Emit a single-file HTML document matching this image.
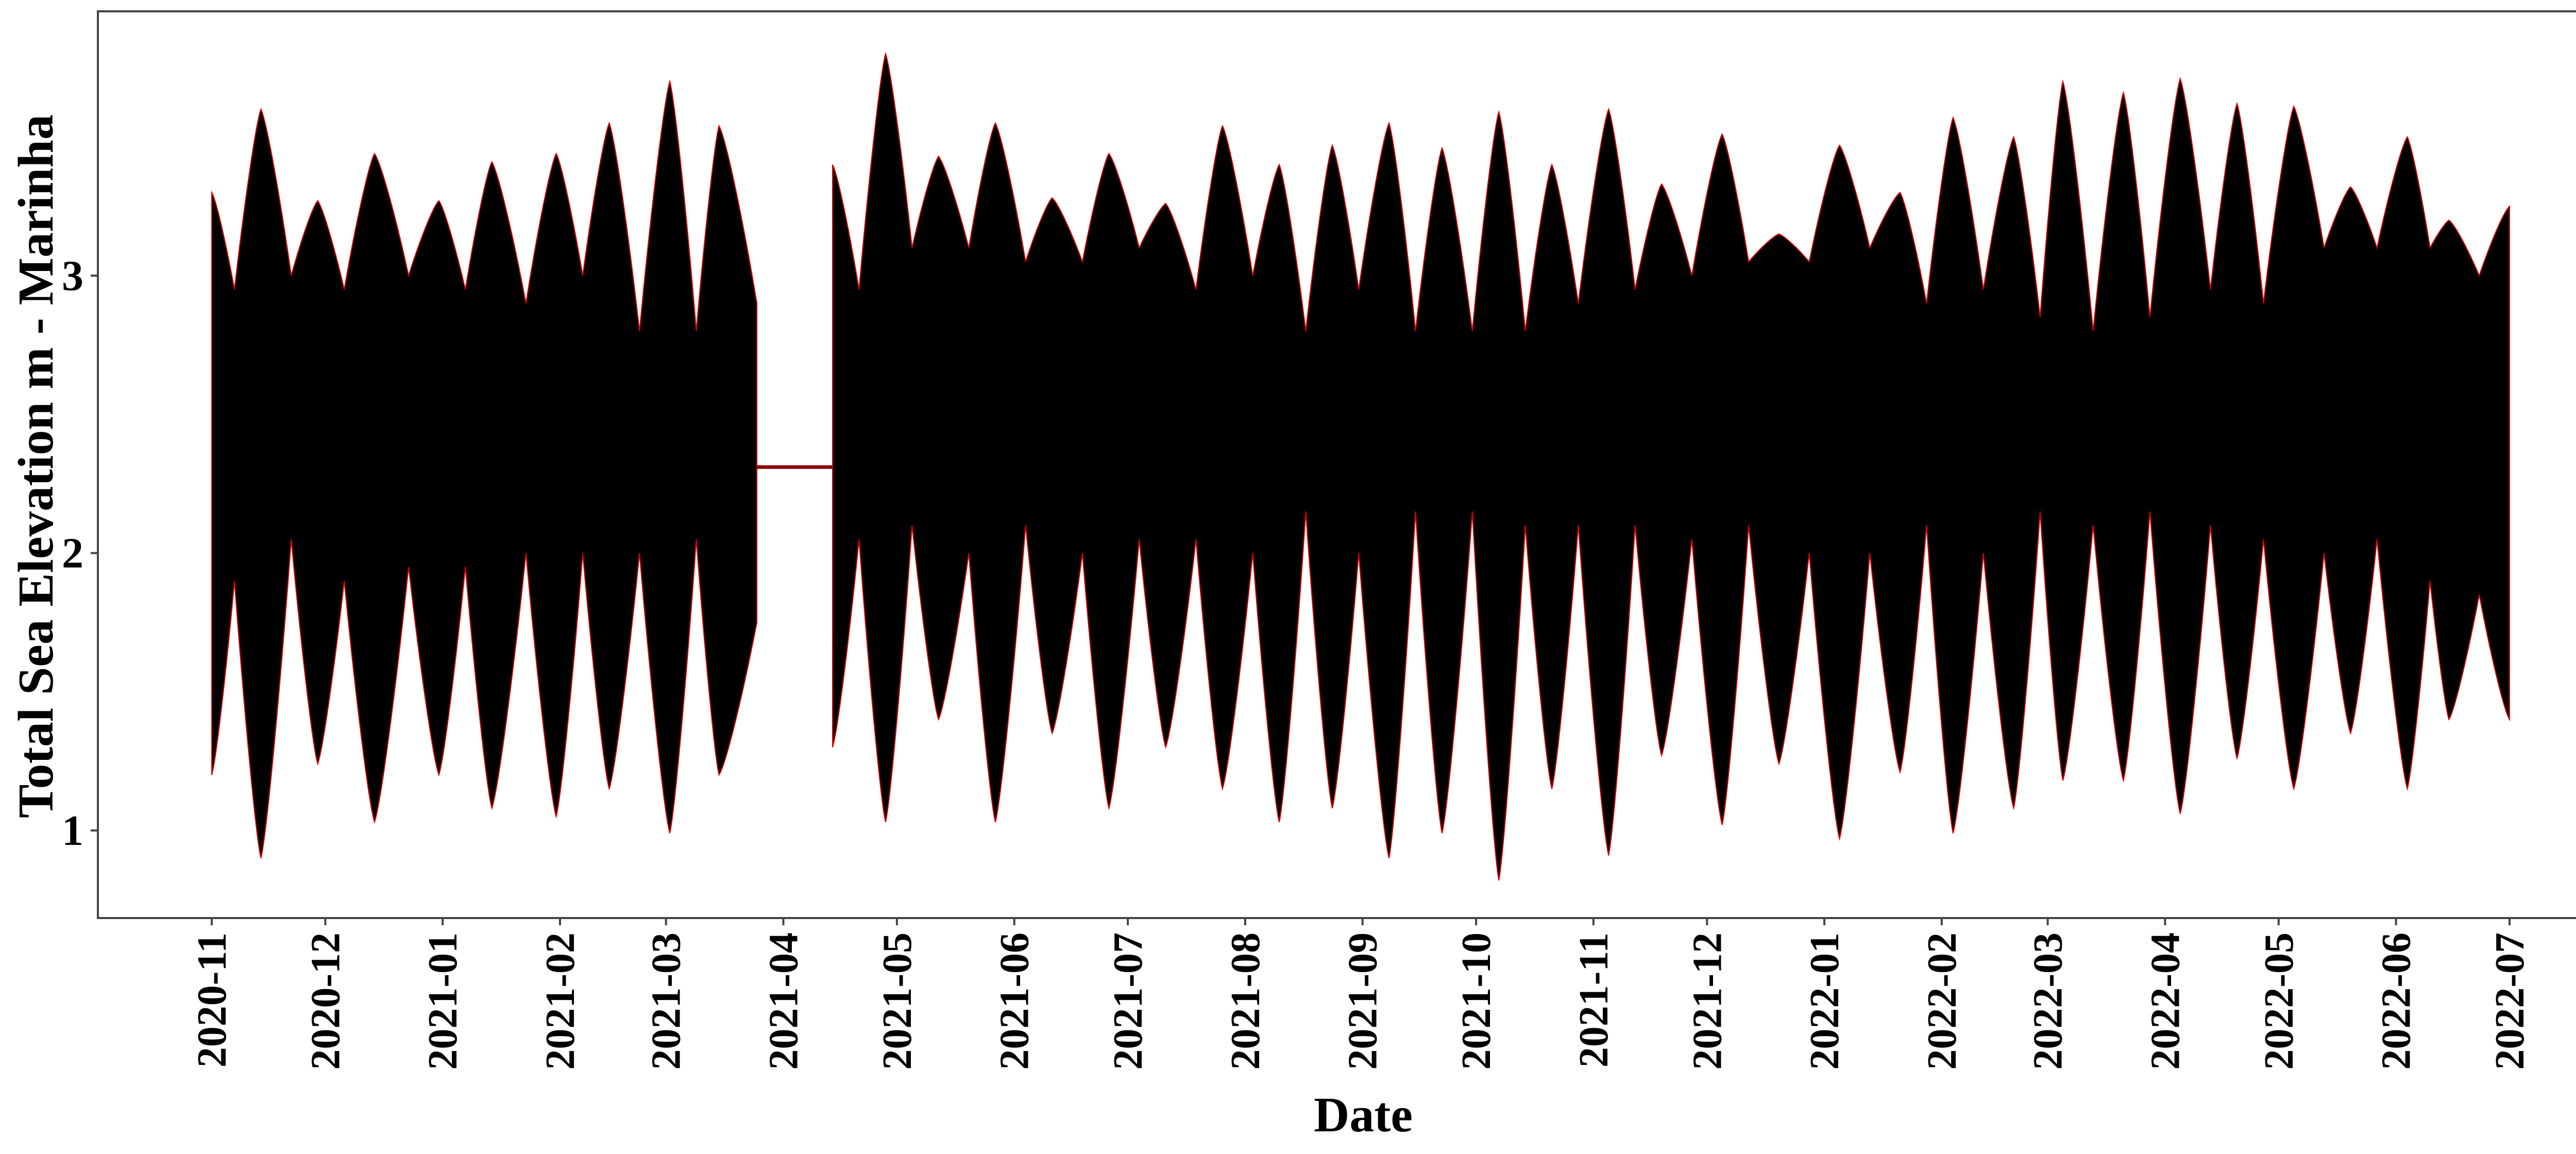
<!DOCTYPE html>
<html><head><meta charset="utf-8"><style>
html,body{margin:0;padding:0;background:#fff;}
svg{display:block;font-family:"Liberation Serif",serif;font-weight:bold;}
</style></head><body>
<svg id="chart" width="5120" height="2240" viewBox="0 0 5120 2240" xmlns="http://www.w3.org/2000/svg">
<rect x="0" y="0" width="5120" height="2240" fill="#fff"/>
<g id="marks"></g>
<rect x="190" y="22" width="4911" height="1760" fill="none" stroke="#444" stroke-width="4"/>
<g id="axes"></g>
<text x="2646" y="2196" font-size="96" text-anchor="middle">Date</text>
<text transform="translate(102,905) rotate(-90)" font-size="98" text-anchor="middle">Total Sea Elevation m - Marinha</text>
</svg>
<script>
// data: day offsets from 2020-11-01, upper (daily max) & lower (daily min) envelope, metres
const seg1Days = [0,6,13,21,28,35,43,52,60,67,74,83,91,98,105,113,121,128,134,144];
const seg1Upper = [3.3,2.95,3.6,3.0,3.27,2.95,3.44,3.0,3.27,2.95,3.41,2.9,3.44,3.0,3.55,2.8,3.7,2.8,3.54,2.9];
const seg1Lower = [1.2,1.9,0.9,2.05,1.24,1.9,1.03,1.95,1.2,1.95,1.08,2.0,1.05,2.0,1.15,2.0,0.99,2.05,1.2,1.75];
const seg2Days = [164,171,178,185,192,200,207,215,222,230,237,245,252,260,267,275,282,289,296,303,311,318,325,333,340,347,354,361,369,376,383,391,399,406,414,422,430,438,446,453,460,468,476,483,489,497,505,512,520,528,535,542,550,558,565,572,580,586,591,599,607];
const seg2Upper = [3.4,2.95,3.8,3.1,3.43,3.1,3.55,3.05,3.28,3.05,3.44,3.1,3.26,2.95,3.54,3.0,3.4,2.8,3.47,2.95,3.55,2.8,3.46,2.8,3.59,2.8,3.4,2.9,3.6,2.95,3.33,3.0,3.51,3.05,3.15,3.05,3.47,3.1,3.3,2.9,3.57,2.95,3.5,2.85,3.7,2.8,3.66,2.85,3.71,2.95,3.62,2.9,3.61,3.1,3.32,3.1,3.5,3.1,3.2,3.0,3.25];
const seg2Lower = [1.3,2.05,1.03,2.1,1.4,2.0,1.03,2.1,1.35,2.0,1.08,2.05,1.3,2.05,1.15,2.0,1.03,2.15,1.08,2.0,0.9,2.15,0.99,2.15,0.82,2.1,1.15,2.1,0.91,2.1,1.27,2.05,1.02,2.1,1.24,2.0,0.97,2.0,1.21,2.1,0.99,2.0,1.08,2.15,1.18,2.1,1.18,2.15,1.06,2.1,1.26,2.05,1.15,2.0,1.35,2.05,1.15,1.9,1.4,1.85,1.4];
const gapDays = [144,164];
const gapLevel = 2.31;
const yTicks = [1,2,3];
const xTickLabels = ["2020-11","2020-12","2021-01","2021-02","2021-03","2021-04","2021-05","2021-06","2021-07","2021-08","2021-09","2021-10","2021-11","2021-12","2022-01","2022-02","2022-03","2022-04","2022-05","2022-06","2022-07"];

const NS="http://www.w3.org/2000/svg";
const x0=411, pxPerDay=(4871-411)/607;
function xs(d){return x0+d*pxPerDay;}
function ys(v){return 1612-(v-1)*538.5;}
function dayOf(lbl){const [y,m]=lbl.split("-").map(Number);return (Date.UTC(y,m-1,1)-Date.UTC(2020,10,1))/86400000;}
const marks=document.getElementById("marks");
const axes=document.getElementById("axes");

// curve segment: mildly convex lobes, pointed peaks, sharp notches at neaps
function curve(xa,ya,xb,yb,aExtreme){
  const dx=xb-xa;
  if(aExtreme){
    return " C"+(xa+dx*0.2).toFixed(1)+","+(ya+(yb-ya)*0.08).toFixed(1)+" "+(xb-dx*0.35).toFixed(1)+","+(yb+(ya-yb)*0.45).toFixed(1)+" "+xb.toFixed(1)+","+yb.toFixed(1);
  }
  return " C"+(xa+dx*0.35).toFixed(1)+","+(ya+(yb-ya)*0.45).toFixed(1)+" "+(xb-dx*0.2).toFixed(1)+","+(yb+(ya-yb)*0.08).toFixed(1)+" "+xb.toFixed(1)+","+yb.toFixed(1);
}
function drawSeg(days,up,lo,name){
  const n=days.length;
  let d="M"+xs(days[0]).toFixed(1)+","+ys(up[0]).toFixed(1);
  for(let i=1;i<n;i++) d+=curve(xs(days[i-1]),ys(up[i-1]),xs(days[i]),ys(up[i]),(i-1)%2===0);
  d+=" L"+xs(days[n-1]).toFixed(1)+","+ys(lo[n-1]).toFixed(1);
  for(let i=n-2;i>=0;i--) d+=curve(xs(days[i+1]),ys(lo[i+1]),xs(days[i]),ys(lo[i]),(i+1)%2===0);
  d+=" Z";
  const p=document.createElementNS(NS,"path");
  p.setAttribute("d",d);
  p.setAttribute("fill","#000");
  p.setAttribute("stroke","#d00");
  p.setAttribute("stroke-width","2");
  
  
  marks.appendChild(p);
}
drawSeg(seg1Days,seg1Upper,seg1Lower,'elevation-series-segment-1');
drawSeg(seg2Days,seg2Upper,seg2Lower,'elevation-series-segment-2');

const gl=document.createElementNS(NS,"line");
gl.setAttribute("x1",xs(gapDays[0]));gl.setAttribute("x2",xs(gapDays[1]));
gl.setAttribute("y1",ys(gapLevel));gl.setAttribute("y2",ys(gapLevel));
gl.setAttribute("stroke","#8b0000");gl.setAttribute("stroke-width","7");


marks.appendChild(gl);

yTicks.forEach(v=>{
  const t=document.createElementNS(NS,"line");
  t.setAttribute("x1",176);t.setAttribute("x2",190);t.setAttribute("y1",ys(v));t.setAttribute("y2",ys(v));
  t.setAttribute("stroke","#444");t.setAttribute("stroke-width","4");
  
  
  axes.appendChild(t);
  const l=document.createElementNS(NS,"text");
  l.setAttribute("x",162);l.setAttribute("y",ys(v)+28);l.setAttribute("text-anchor","end");l.setAttribute("font-size","84");
  l.textContent=v;
  
  
  axes.appendChild(l);
});
xTickLabels.forEach(lbl=>{
  const x=xs(dayOf(lbl));
  const t=document.createElementNS(NS,"line");
  t.setAttribute("x1",x);t.setAttribute("x2",x);t.setAttribute("y1",1782);t.setAttribute("y2",1796);
  t.setAttribute("stroke","#444");t.setAttribute("stroke-width","4");
  
  
  axes.appendChild(t);
  const l=document.createElementNS(NS,"text");
  l.setAttribute("transform","translate("+(x+27)+",1810) rotate(-90)");
  l.setAttribute("text-anchor","end");l.setAttribute("font-size","80");
  l.textContent=lbl;
  
  
  axes.appendChild(l);
});
</script>
</body></html>
